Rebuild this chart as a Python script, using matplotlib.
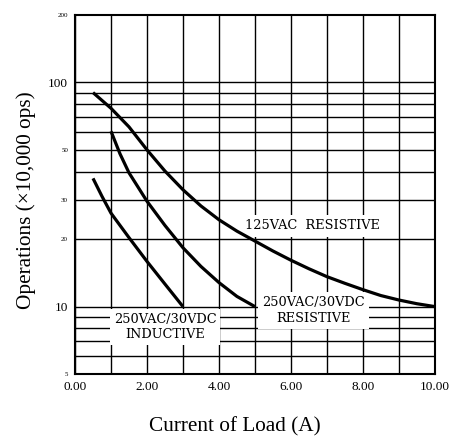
import matplotlib
matplotlib.use("Agg")
import matplotlib.pyplot as plt
from matplotlib.ticker import FixedLocator, NullLocator, NullFormatter

# curves (current A, operations x10,000)
res125_x = [0.5, 1.0, 1.5, 2.0, 2.5, 3.0, 3.5, 4.0, 4.5, 5.0, 5.5, 6.0,
            6.5, 7.0, 7.5, 8.0, 8.5, 9.0, 9.5, 10.0]
res125_y = [90, 76.6, 63.3, 50, 40.2, 33.2, 28.1, 24.4, 21.7, 19.6, 17.7, 16.1,
            14.75, 13.6, 12.7, 11.9, 11.2, 10.7, 10.3, 10.0]

res250_x = [1.0, 1.25, 1.5, 2.0, 2.5, 3.0, 3.5, 4.0, 4.5, 5.0]
res250_y = [60.5, 48.0, 39.5, 29.5, 23.0, 18.3, 15.1, 12.8, 11.1, 10.0]

ind250_x = [0.5, 0.75, 1.0, 1.5, 2.0, 2.5, 3.0]
ind250_y = [37.3, 31.0, 26.1, 20.3, 15.9, 12.6, 10.0]

x_ticks = [0, 2, 4, 6, 8, 10]
x_labels = ["0.00", "2.00", "4.00", "6.00", "8.00", "10.00"]
y_ticks = [5, 10, 20, 30, 50, 100, 200]
y_labels = ["5", "10", "20", "30", "50", "100", "200"]
y_grid = [5, 6, 7, 8, 9, 10, 20, 30, 40, 50, 60, 70, 80, 90, 100]

serif = ["Liberation Serif", "DejaVu Serif"]

fig = plt.figure(figsize=(4.66, 4.36), dpi=100)
ax = fig.add_axes([0.161, 0.142, 0.772, 0.824])

ax.set_yscale("log")
ax.set_xlim(0, 10)
ax.set_ylim(5, 200)

# grid lines
for xv in range(0, 11):
    ax.axvline(xv, color="black", lw=1.0, zorder=1)
for yv in y_grid:
    ax.axhline(yv, color="black", lw=1.0, zorder=1)

# curves drawn above the white label boxes
for xs, ys in [(res125_x, res125_y), (res250_x, res250_y), (ind250_x, ind250_y)]:
    ax.plot(xs, ys, color="black", lw=2.3, zorder=4,
            solid_joinstyle="round", solid_capstyle="butt")

box = dict(facecolor="white", edgecolor="none", pad=3)
lab_font = dict(family="DejaVu Serif", fontsize=9.3, ha="center", va="center",
                zorder=3, linespacing=1.25)
ax.text(6.6, 22.9, "125VAC  RESISTIVE", bbox=box, **lab_font)
ax.text(6.64, 9.6, "250VAC/30VDC\nRESISTIVE", bbox=box, **lab_font)
ax.text(2.5, 8.1, "250VAC/30VDC\nINDUCTIVE", bbox=box, **lab_font)

ax.xaxis.set_major_locator(FixedLocator(x_ticks))
ax.set_xticklabels(x_labels, family=serif, fontsize=9.5)
ax.yaxis.set_major_locator(FixedLocator(y_ticks))
ax.yaxis.set_minor_locator(NullLocator())
ax.yaxis.set_minor_formatter(NullFormatter())
ax.set_yticklabels(y_labels, family=serif)
for t, lbl in zip(ax.get_yticklabels(), y_labels):
    t.set_fontsize(9.5 if lbl in ("10", "100") else 5)
ax.tick_params(length=0, pad=5)

for s in ax.spines.values():
    s.set_linewidth(1.5)
    s.set_zorder(5)

# axis titles placed like the reference (x title sits left of axes centre)
fig.text(0.504, 0.0095, "Current of Load (A)", family=serif, fontsize=15.3,
         ha="center", va="baseline")
fig.text(0.057, 0.541, "Operations (\u00d710,000 ops)", family=serif, fontsize=15.3,
         rotation=90, ha="center", va="center")

fig.savefig("out.png", dpi=100)
